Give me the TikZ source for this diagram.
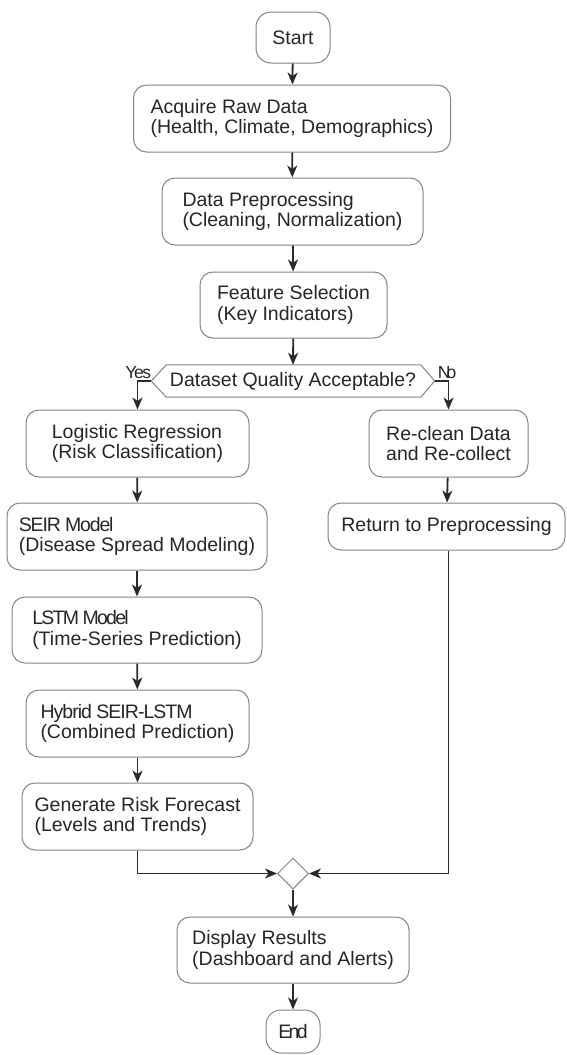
\documentclass[tikz,border=0pt]{standalone}
\usepackage{fontspec}
\setmainfont{Liberation Sans}
\usetikzlibrary{arrows.meta,shapes.geometric,calc}
\definecolor{txt}{HTML}{262626}
\definecolor{edge}{HTML}{2A2A2A}
\definecolor{frame}{HTML}{858585}
\newcommand\tightx[2]{{\addfontfeatures{LetterSpace=#1}#2}}
\begin{document}
\begin{tikzpicture}[x=1pt,y=-1pt,
  every node/.style={text=txt,font=\fontsize{19.5}{20.5}\selectfont},
  procbox/.style={draw=frame,line width=1pt,fill=white,rounded corners=13pt,align=left,inner sep=0pt},
  termbox/.style={draw=frame,line width=1pt,fill=white,rounded corners=15pt,inner sep=0pt},
  arr/.style={draw=edge,line width=1.8pt,-{Stealth[length=12pt,width=10pt,inset=3.5pt]}},
  lbl/.style={inner sep=0pt,font=\fontsize{17.5}{17.5}\selectfont}]
\useasboundingbox (0,0) rectangle (566,1055);
\fill[white] (0,0) rectangle (566,1055);

\node[termbox,minimum width=74pt,minimum height=51pt] (start) at (293,37.5) {Start};
\node[procbox,minimum width=317pt,minimum height=67pt] (acq) at (292,118.5) {Acquire Raw Data\\(Health, Climate, Demographics)};
\node[procbox,minimum width=261pt,minimum height=67pt] (pre) at (292.5,211.5) {Data Preprocessing\\(Cleaning, Normalization)};
\node[procbox,minimum width=187pt,minimum height=66pt] (feat) at (293.5,305) {Feature Selection\\(Key Indicators)};

\node[inner sep=0pt,minimum width=283pt,minimum height=32pt] (dec) at (293,381) {Dataset Quality Acceptable?};
\draw[frame,line width=1pt,fill=white] (dec.west) -- ([xshift=15pt]dec.north west) -- ([xshift=-14pt]dec.north east) -- (dec.east) -- ([xshift=-14pt]dec.south east) -- ([xshift=15pt]dec.south west) -- cycle;
\node[inner sep=0pt] at (dec) {Dataset Quality Acceptable?};

\node[procbox,minimum width=223pt,minimum height=67pt] (logreg) at (137.5,443.5) {Logistic Regression\\(Risk Classification)};
\node[procbox,minimum width=260pt,minimum height=67pt] (seir) at (137,536.5) {\tightx{-6}{SEIR Model}\\(Disease Spread Modeling)};
\node[procbox,minimum width=250pt,minimum height=66pt] (lstm) at (137,630) {\tightx{-9}{LSTM Model}\\(Time-Series Prediction)};
\node[procbox,minimum width=223pt,minimum height=67pt] (hyb) at (137.5,723.5) {\tightx{-5}{Hybrid SEIR-LSTM}\\(Combined Prediction)};
\node[procbox,minimum width=231pt,minimum height=67pt] (gen) at (137.5,816.5) {Generate Risk Forecast\\(Levels and Trends)};

\node[procbox,minimum width=159pt,minimum height=67pt] (recl) at (448.5,443.5) {Re-clean Data\\and Re-collect};
\node[procbox,minimum width=237pt,minimum height=47pt] (ret) at (446.5,526.5) {Return to Preprocessing};

\node[diamond,aspect=1,draw=frame,line width=1pt,fill=white,minimum width=31pt,minimum height=31pt,inner sep=0pt] (merge) at (293,873.5) {};
\node[procbox,minimum width=232pt,minimum height=66pt] (disp) at (293,950) {Display Results\\(Dashboard and Alerts)};
\node[termbox,minimum width=54pt,minimum height=43pt] (end) at (293,1031.5) {\tightx{-14}{End}};

\draw[arr] (start) -- (acq);
\draw[arr] (acq) -- (pre);
\draw[arr] (pre) -- (feat);
\draw[arr] (feat) -- (dec.north);
\draw[arr] (dec.west) -| (logreg.north);
\draw[arr] (dec.east) -| (recl.north);
\node[lbl,anchor=south east] (yes) at ([yshift=2pt]dec.west) {\tightx{-8}{Yes}};
\node[lbl,anchor=south west] (no) at ([xshift=3pt,yshift=2pt]dec.east) {\tightx{-22}{No}};
\draw[arr] (logreg) -- (seir);
\draw[arr] (seir) -- (lstm);
\draw[arr] (lstm) -- (hyb);
\draw[arr] (hyb) -- (gen);
\draw[arr] (recl) -- (ret);
\draw[arr] (gen.south) |- (merge.west);
\draw[arr] (ret.south -| recl.south) |- (merge.east);
\draw[arr] (merge) -- (disp);
\draw[arr] (disp) -- (end);
\end{tikzpicture}
\end{document}
